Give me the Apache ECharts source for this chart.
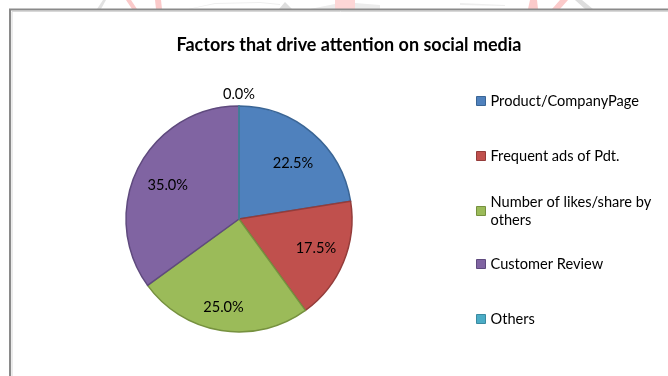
<!DOCTYPE html>
<html>
<head>
<meta charset="utf-8">
<script src="https://cdn.jsdelivr.net/npm/echarts@6/dist/echarts.min.js"></script>
<style>
  html, body { margin: 0; padding: 0; background: #fff; }
  #chart { width: 668px; height: 376px; }
</style>
</head>
<body>
<div id="chart"></div>
<script>
// Survey shares of each factor (percent)
const categories = [
  'Product/CompanyPage',
  'Frequent ads of Pdt.',
  'Number of likes/share by others',
  'Customer Review',
  'Others'
];
const shares = [22.5, 17.5, 25.0, 35.0, 0.0];

const fills   = ['#4F81BD', '#C0504D', '#9BBB59', '#8064A2', '#4BACC6'];
const borders = ['#3A6595', '#943C3A', '#76913F', '#5F4A7E', '#3A8AA0'];
// small nudges of the percentage labels away from the plain radial spot
const labelNudges = [[2, 5], [3, -1], [-3, 9], [0, 3], [0, 0]];

const FONT = 'Lato, "Liberation Sans", sans-serif';
const center = [239, 219];
const R = 113;

const sliceData = categories.map((name, i) => ({
  name: name,
  value: shares[i],
  itemStyle: { color: fills[i], borderColor: borders[i], borderWidth: 1.5 }
}));

const labelText = p => p.value.toFixed(1) + '%';

// Label-only ring for the non-zero slices (transparent, sits over the pie)
const innerLabels = categories.map((name, i) => ({
  name: name,
  value: shares[i],
  itemStyle: { color: 'rgba(0,0,0,0)', borderWidth: 0 },
  label: { show: shares[i] > 0, offset: labelNudges[i] }
}));
// Label-only ring for empty slices, drawn just beyond the rim
const rimLabels = categories.map((name, i) => ({
  name: name,
  value: shares[i],
  itemStyle: { color: 'rgba(0,0,0,0)', borderWidth: 0 },
  label: { show: shares[i] === 0 }
}));

const legendTops = [92, 147, 184, 255, 310];
const legends = categories.map((name, i) => {
  const twoLine = name.indexOf(' by ') > 0;
  return {
    data: [name],
    orient: 'vertical',
    left: 476,
    top: legendTops[i],
    padding: 0,
    itemWidth: 9,
    itemHeight: 9,
    itemGap: 0,
    selectedMode: false,
    icon: 'rect',
    itemStyle: { borderWidth: 1 },
    formatter: n => twoLine ? 'Number of likes/share by\nothers' : n,
    textStyle: {
      fontFamily: FONT,
      fontSize: 14.6,
      color: '#000',
      lineHeight: 18,
      padding: twoLine ? [18, 0, 0, 0] : 0
    }
  };
});

const chart = echarts.init(document.getElementById('chart'), null, { renderer: 'canvas' });

chart.setOption({
  backgroundColor: '#fff',
  animation: false,
  color: fills,
  title: {
    text: 'Factors that drive attention on social media',
    left: 344,
    top: 31,
    textAlign: 'center',
    textStyle: { fontFamily: FONT, fontSize: 18, fontWeight: 'bold', color: '#000' }
  },
  legend: legends,
  graphic: [
    // faint watermark fragments above the frame
    { type: 'polygon', silent: true, shape: { points: [[97, 9], [103, 0], [106, 0], [101, 9]] }, style: { fill: '#e2e2e2' } },
    { type: 'polygon', silent: true, shape: { points: [[126, 0], [131, 0], [137, 9], [132, 9]] }, style: { fill: '#fbcaca' } },
    { type: 'polygon', silent: true, shape: { points: [[155, 0], [161, 0], [162, 9], [156, 9]] }, style: { fill: '#fbcaca' } },
    { type: 'polygon', silent: true, shape: { points: [[188, 9], [215, 3], [260, 2], [280, 4], [280, 5], [260, 3], [215, 4], [190, 9]] }, style: { fill: '#efefef' } },
    { type: 'polygon', silent: true, shape: { points: [[279, 9], [285, 2], [292, 9]] }, style: { fill: '#dedede' } },
    { type: 'polygon', silent: true, shape: { points: [[310, 9], [335, 4], [355, 3], [380, 5], [380, 9]] }, style: { fill: '#ececec' } },
    { type: 'rect', silent: true, shape: { x: 335, y: 0, width: 20, height: 9 }, style: { fill: '#fdd6d6' } },
    { type: 'polygon', silent: true, shape: { points: [[460, 3], [505, 5], [505, 6], [460, 5]] }, style: { fill: '#eeeeee' } },
    { type: 'polygon', silent: true, shape: { points: [[530, 0], [537, 0], [538, 9], [528, 9]] }, style: { fill: '#fbcaca' } },
    { type: 'polygon', silent: true, shape: { points: [[560, 0], [568, 0], [560, 9], [552, 9]] }, style: { fill: '#fbcaca' } },
    { type: 'polygon', silent: true, shape: { points: [[575, 0], [582, 0], [593, 9], [585, 9]] }, style: { fill: '#dedede' } },
    // chart area frame
    { type: 'rect', silent: true, shape: { x: 10, y: 9.5, width: 700, height: 400 }, style: { fill: '#fff', stroke: '#8a8a8a', lineWidth: 2 } },
    { type: 'rect', silent: true, shape: { x: 12, y: 11.5, width: 700, height: 400 }, style: { fill: null, stroke: '#d8d8d8', lineWidth: 1 } }
  ],
  series: [
    {
      type: 'pie',
      center: center,
      radius: [0, R],
      startAngle: 90,
      clockwise: true,
      silent: true,
      label: { show: false },
      labelLine: { show: false },
      data: sliceData
    },
    {
      type: 'pie',
      center: center,
      radius: [0, 154],
      startAngle: 90,
      clockwise: true,
      silent: true,
      z: 3,
      label: {
        position: 'inside',
        formatter: labelText,
        fontFamily: FONT,
        fontSize: 14.6,
        color: '#000'
      },
      labelLine: { show: false },
      emphasis: { disabled: true },
      data: innerLabels
    },
    {
      type: 'pie',
      center: center,
      radius: [0, 244],
      startAngle: 90,
      clockwise: true,
      silent: true,
      z: 3,
      label: {
        position: 'inside',
        formatter: labelText,
        fontFamily: FONT,
        fontSize: 14.6,
        color: '#000'
      },
      labelLine: { show: false },
      emphasis: { disabled: true },
      data: rimLabels
    }
  ]
});
</script>
</body>
</html>
